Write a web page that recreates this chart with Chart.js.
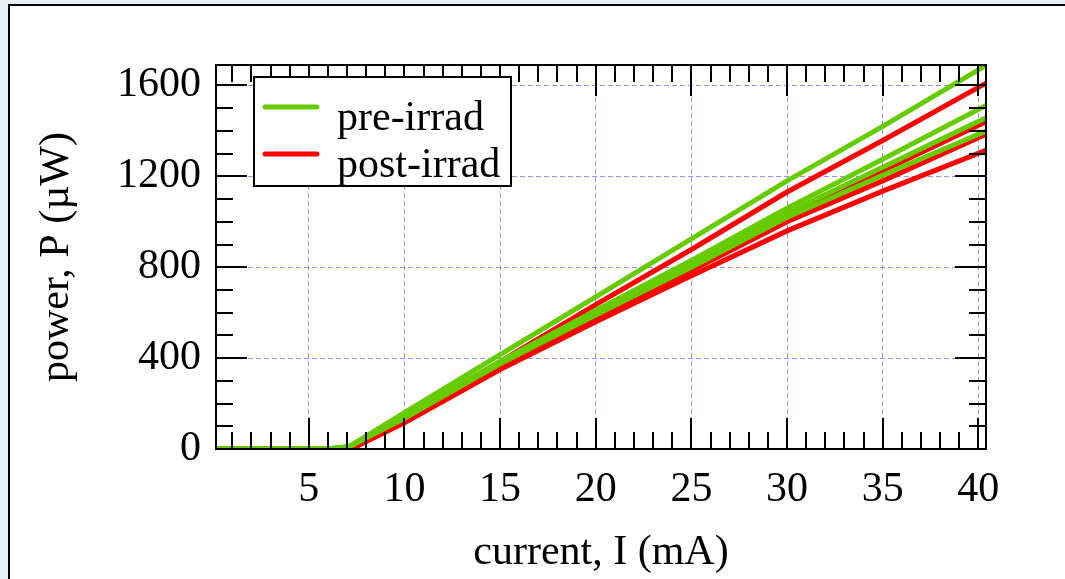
<!DOCTYPE html>
<html lang="en">
<head>
<meta charset="UTF-8">
<title>power vs current</title>
<script src="https://cdn.jsdelivr.net/npm/chart.js"></script>
<style>
  html, body { margin: 0; padding: 0; width: 1065px; height: 579px; overflow: hidden; background: #e9eef9; }
  .frame { position: absolute; left: 8px; top: 4px; width: 1080px; height: 600px; background: #fff; border: 2px solid #000; }
  #chart { position: absolute; left: 0; top: 0; }
</style>
</head>
<body>
<div class="frame"></div>
<canvas id="chart" width="1065" height="579"></canvas>
<script>
// current in mA, power in uW
const preI   = [0.15, 6, 7.1, 10, 15, 20, 25, 30, 35, 40.4];
const preP1  = [0, 0, 10, 160, 415, 670, 925, 1180, 1420, 1688];
const preP2  = [0, 0, 10, 145, 385, 610, 830, 1060, 1275, 1512];
const preP3  = [0, 0, 10, 140, 380, 600, 815, 1040, 1240, 1458];
const preP4  = [0, 0, 10, 135, 375, 590, 800, 1020, 1205, 1399];

const postI  = [0.15, 7.2, 10, 15, 20, 25, 30, 35, 40.4];
const postP1 = [0, 0, 130, 385, 635, 878, 1131, 1358, 1610];
const postP2 = [0, 0, 125, 370, 590, 800, 1025, 1225, 1440];
const postP3 = [0, 0, 120, 360, 575, 785, 1000, 1180, 1385];
const postP4 = [0, 0, 115, 350, 560, 762, 960, 1135, 1314];

const xTicks = [5, 10, 15, 20, 25, 30, 35, 40];
const yTicks = [0, 400, 800, 1200, 1600];
const xMin = 0.15, xMax = 40.4, xMinorStep = 1;
const yMin = 0, yMax = 1690, yMinorStep = 100;

const green = '#66cc00';
const red = '#ff0000';
const serif = "'Liberation Serif', 'Times New Roman', serif";
const txt = {family: serif, size: 42};

Chart.defaults.font.family = serif;
Chart.defaults.font.size = 42;
Chart.defaults.color = '#000';

function pts(xs, ys) {
    return xs.map((x, i) => ({x: x, y: ys[i]}));
}

// box + inward ticks on all four sides
const frameTicks = {
    id: 'frameTicks',
    afterDatasetsDraw(chart) {
        const ctx = chart.ctx;
        const a = chart.chartArea;
        const sx = chart.scales.x, sy = chart.scales.y;
        ctx.save();
        ctx.strokeStyle = '#000';
        ctx.lineWidth = 2;
        ctx.setLineDash([]);
        ctx.beginPath();
        for (let v = Math.ceil(xMin); v <= xMax; v += xMinorStep) {
            const len = xTicks.includes(v) ? 31 : 17;
            const px = Math.round(sx.getPixelForValue(v));
            ctx.moveTo(px, a.bottom); ctx.lineTo(px, a.bottom - len);
            ctx.moveTo(px, a.top); ctx.lineTo(px, a.top + len);
        }
        for (let v = yMin + yMinorStep; v <= yMax; v += yMinorStep) {
            const len = yTicks.includes(v) ? 31 : 17;
            const py = Math.round(sy.getPixelForValue(v));
            ctx.moveTo(a.left, py); ctx.lineTo(a.left + len, py);
            ctx.moveTo(a.right, py); ctx.lineTo(a.right - len, py);
        }
        ctx.stroke();
        ctx.strokeRect(a.left, a.top, a.right - a.left, a.bottom - a.top);
        ctx.restore();
    }
};

// legend box inside the plot, upper left
const boxLegend = {
    id: 'boxLegend',
    afterDraw(chart) {
        const ctx = chart.ctx;
        const a = chart.chartArea;
        const seen = [];
        chart.data.datasets.forEach(d => {
            if (!seen.find(s => s.label === d.label)) seen.push(d);
        });
        const bx = a.left + 38, by = a.top + 12, bw = 257, bh = 109;
        ctx.save();
        ctx.fillStyle = '#fff';
        ctx.fillRect(bx, by, bw, bh);
        ctx.strokeStyle = '#000';
        ctx.lineWidth = 2;
        ctx.strokeRect(bx, by, bw, bh);
        ctx.font = '42px ' + serif;
        ctx.textBaseline = 'alphabetic';
        ctx.textAlign = 'left';
        seen.forEach((d, i) => {
            const ly = by + 30 + i * 47;
            ctx.strokeStyle = d.borderColor;
            ctx.lineWidth = 5;
            ctx.lineCap = 'round';
            ctx.beginPath();
            ctx.moveTo(bx + 11, ly);
            ctx.lineTo(bx + 63, ly);
            ctx.stroke();
            ctx.fillStyle = '#000';
            ctx.fillText(d.label, bx + 83, by + 53 + i * 47);
        });
        ctx.restore();
    }
};

const gridColor = 'rgba(110,110,255,0.75)';

new Chart(document.getElementById('chart'), {
    type: 'line',
    data: {
        datasets: [
            {label: 'pre-irrad', data: pts(preI, preP1), borderColor: green},
            {label: 'pre-irrad', data: pts(preI, preP2), borderColor: green},
            {label: 'pre-irrad', data: pts(preI, preP3), borderColor: green},
            {label: 'pre-irrad', data: pts(preI, preP4), borderColor: green},
            {label: 'post-irrad', data: pts(postI, postP1), borderColor: red},
            {label: 'post-irrad', data: pts(postI, postP2), borderColor: red},
            {label: 'post-irrad', data: pts(postI, postP3), borderColor: red},
            {label: 'post-irrad', data: pts(postI, postP4), borderColor: red}
        ]
    },
    options: {
        responsive: false,
        animation: false,
        devicePixelRatio: 1,
        layout: {padding: {left: 0, top: 65, right: 79, bottom: 0}},
        elements: {
            point: {radius: 0},
            line: {borderWidth: 5, tension: 0, borderCapStyle: 'round', borderJoinStyle: 'round', fill: false}
        },
        plugins: {legend: {display: false}, tooltip: {enabled: false}},
        scales: {
            x: {
                type: 'linear',
                min: xMin,
                max: xMax,
                afterBuildTicks: s => { s.ticks = xTicks.map(v => ({value: v})); },
                afterFit: s => { s.height = 130; },
                grid: {color: gridColor, lineWidth: 1, drawTicks: false},
                border: {display: false, dash: [5, 3]},
                ticks: {padding: 16, maxRotation: 0, autoSkip: false, font: txt, callback: v => String(v)},
                title: {display: true, text: 'current, I (mA)', font: txt, padding: {top: 0, bottom: 1}}
            },
            y: {
                type: 'linear',
                min: yMin,
                max: yMax,
                afterBuildTicks: s => { s.ticks = yTicks.map(v => ({value: v})); },
                afterFit: s => { s.width = 216; },
                grid: {color: gridColor, lineWidth: 1, drawTicks: false},
                border: {display: false, dash: [5, 3]},
                ticks: {padding: 15, autoSkip: false, font: txt, callback: v => String(v)},
                title: {display: true, text: 'power, P (µW)', font: txt, padding: {top: 32, bottom: 0}}
            }
        }
    },
    plugins: [frameTicks, boxLegend]
});
</script>
</body>
</html>
